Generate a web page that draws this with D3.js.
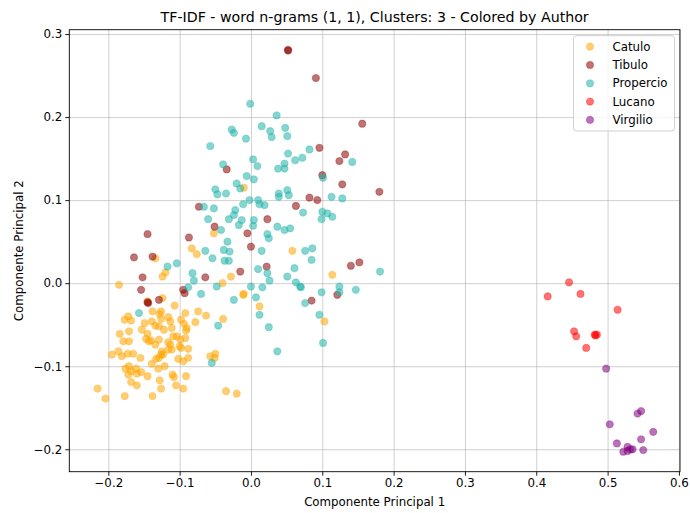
<!DOCTYPE html>
<html>
<head>
<meta charset="utf-8">
<title>TF-IDF scatter</title>
<script src="https://d3js.org/d3.v7.min.js"></script>
<style>
body { margin: 0; background: #fff; }
text { font-family: "DejaVu Sans", sans-serif; }
</style>
</head>
<body>
<svg id="chart" width="690" height="513"></svg>
<script>
// data (PCA components 1 and 2)
const authors = ["Catulo", "Tibulo", "Propercio", "Lucano", "Virgilio"];
const xTicks = [-0.2, -0.1, 0.0, 0.1, 0.2, 0.3, 0.4, 0.5, 0.6];
const yTicks = [-0.2, -0.1, 0.0, 0.1, 0.2, 0.3];

const catulo = [
  [-0.052,0.060],[-0.083,0.042],[-0.076,0.035],[0.058,0.039],[-0.010,0.115],[-0.134,0.030],
  [-0.185,-0.002],[-0.124,0.008],[-0.120,0.013],[-0.124,-0.018],[-0.145,-0.022],[-0.040,0.000],
  [-0.028,0.008],[-0.011,-0.014],[-0.010,-0.013],[0.012,-0.028],[0.114,0.010],[0.103,-0.046],
  [-0.107,-0.027],[-0.172,-0.040],[-0.177,-0.044],[-0.168,-0.045],[-0.138,-0.034],[-0.126,-0.034],
  [-0.128,-0.037],[-0.092,-0.036],[-0.074,-0.034],[-0.063,-0.039],[-0.039,-0.043],[-0.078,-0.047],
  [-0.149,-0.048],[-0.139,-0.046],[-0.126,-0.043],[-0.116,-0.041],[-0.113,-0.046],[-0.098,-0.044],
  [-0.094,-0.049],[-0.153,-0.056],[-0.145,-0.061],[-0.129,-0.052],[-0.122,-0.056],[-0.111,-0.054],
  [-0.109,-0.064],[-0.090,-0.054],[-0.091,-0.057],[-0.171,-0.058],[-0.184,-0.061],[-0.179,-0.070],
  [-0.171,-0.070],[-0.143,-0.070],[-0.140,-0.069],[-0.134,-0.074],[-0.129,-0.068],[-0.116,-0.071],
  [-0.113,-0.074],[-0.104,-0.064],[-0.099,-0.068],[-0.092,-0.066],[-0.100,-0.076],[-0.098,-0.078],
  [-0.195,-0.086],[-0.186,-0.082],[-0.181,-0.088],[-0.173,-0.085],[-0.165,-0.085],[-0.155,-0.090],
  [-0.125,-0.082],[-0.126,-0.086],[-0.129,-0.090],[-0.133,-0.091],[-0.139,-0.097],[-0.111,-0.080],
  [-0.102,-0.091],[-0.095,-0.094],[-0.088,-0.090],[-0.088,-0.079],[-0.121,-0.100],[-0.130,-0.103],
  [-0.171,-0.100],[-0.176,-0.103],[-0.161,-0.103],[-0.168,-0.106],[-0.154,-0.107],[-0.172,-0.110],
  [-0.160,-0.109],[-0.145,-0.112],[-0.110,-0.110],[-0.108,-0.113],[-0.091,-0.112],[-0.168,-0.119],
  [-0.160,-0.123],[-0.128,-0.117],[-0.126,-0.127],[-0.105,-0.123],[-0.095,-0.127],[-0.215,-0.127],
  [-0.204,-0.139],[-0.177,-0.136],[-0.138,-0.136],[-0.057,-0.088],[-0.050,-0.085],[-0.051,-0.090],
  [-0.035,-0.130],[-0.020,-0.133],[-0.147,-0.067],[-0.134,-0.051],[-0.116,-0.080],[-0.123,-0.086]
];

const tibulo = [
  [0.052,0.280],[0.052,0.281],[0.091,0.247],[0.156,0.192],[0.096,0.163],[0.132,0.155],
  [0.124,0.147],[-0.034,0.137],[0.100,0.130],[0.128,0.119],[0.180,0.110],[0.082,0.103],
  [0.093,0.100],[-0.073,0.092],[0.063,0.093],[0.023,0.077],[-0.051,0.068],[-0.005,0.060],
  [-0.087,0.055],[-0.145,0.059],[0.000,0.044],[-0.164,0.031],[-0.138,0.032],[-0.152,0.007],
  [-0.154,-0.008],[-0.145,-0.023],[-0.144,-0.024],[-0.129,-0.020],[-0.095,-0.008],[-0.093,-0.012],
  [-0.064,0.007],[-0.015,0.014],[0.022,0.020],[0.085,-0.021],[0.121,-0.014],[0.140,0.021],
  [0.152,0.025]
];

const propercio = [
  [-0.001,0.216],[0.036,0.202],[0.015,0.189],[0.048,0.187],[-0.027,0.185],[-0.024,0.181],
  [0.027,0.183],[0.029,0.176],[0.051,0.177],[-0.007,0.174],[-0.057,0.165],[0.082,0.161],
  [0.052,0.156],[0.072,0.151],[0.062,0.148],[0.142,0.146],[0.003,0.149],[0.009,0.141],
  [-0.039,0.143],[0.047,0.144],[0.047,0.138],[0.038,0.138],[-0.006,0.129],[0.004,0.125],
  [-0.020,0.120],[-0.015,0.114],[-0.050,0.113],[-0.047,0.107],[-0.035,0.108],[0.051,0.112],
  [0.039,0.108],[0.039,0.104],[0.053,0.106],[0.113,0.104],[0.128,0.102],[-0.002,0.100],
  [0.010,0.100],[0.012,0.095],[0.019,0.094],[-0.011,0.095],[-0.066,0.092],[-0.052,0.090],
  [-0.022,0.088],[-0.024,0.082],[0.073,0.085],[0.100,0.086],[0.107,0.084],[0.114,0.080],
  [0.099,0.077],[-0.060,0.077],[-0.031,0.077],[-0.013,0.076],[0.004,0.076],[-0.017,0.070],
  [0.003,0.069],[0.037,0.068],[0.047,0.064],[0.055,0.066],[-0.042,0.064],[0.023,0.059],
  [0.025,0.054],[-0.033,0.050],[-0.064,0.039],[-0.038,0.040],[-0.030,0.038],[0.015,0.039],
  [0.076,0.039],[0.086,0.042],[0.101,0.127],[-0.117,0.020],[-0.104,0.024],[-0.082,0.012],
  [-0.080,0.003],[-0.088,-0.005],[-0.070,-0.013],[-0.048,-0.004],[-0.054,0.030],[-0.031,0.027],
  [-0.037,0.027],[0.000,-0.004],[0.010,0.017],[0.016,-0.005],[0.023,0.012],[0.026,0.003],
  [0.007,-0.017],[-0.024,-0.020],[0.012,-0.038],[0.025,-0.053],[0.037,-0.082],[0.051,0.008],
  [0.061,0.018],[0.063,0.001],[0.069,-0.004],[0.070,-0.005],[0.085,0.028],[0.076,-0.024],
  [0.099,-0.011],[0.096,-0.038],[0.101,-0.072],[0.124,-0.004],[0.124,-0.011],[0.147,-0.008],
  [0.181,0.014],[-0.157,-0.036],[-0.046,-0.051],[-0.055,-0.096]
];

const lucano = [
  [0.446,0.001],[0.416,-0.016],[0.462,-0.013],[0.514,-0.032],[0.453,-0.058],[0.456,-0.064],
  [0.482,-0.062],[0.485,-0.062],[0.483,-0.063],[0.470,-0.078]
];

const virgilio = [
  [0.498,-0.103],[0.503,-0.170],[0.542,-0.157],[0.547,-0.154],[0.564,-0.179],[0.547,-0.188],
  [0.513,-0.193],[0.528,-0.197],[0.532,-0.200],[0.535,-0.200],[0.522,-0.203],[0.528,-0.202],
  [0.550,-0.201]
];

const series = [catulo, tibulo, propercio, lucano, virgilio];
const colors = ["orange", "darkred", "lightseagreen", "red", "purple"];

const svg = d3.select("#chart");
const W = 690, H = 513;
const margin = {top: 29.7, right: 10, bottom: 41.3, left: 69.3};
const plotW = W - margin.left - margin.right;
const plotH = H - margin.top - margin.bottom;
const FS = 11.8;

const x = d3.scaleLinear().domain([-0.2547, 0.6015]).range([0, plotW]);
const y = d3.scaleLinear().domain([-0.227, 0.3052]).range([plotH, 0]);

const g = svg.append("g").attr("transform", `translate(${margin.left},${margin.top})`);

// grid
g.append("g")
  .attr("transform", `translate(0,${plotH})`)
  .call(d3.axisBottom(x).tickValues(xTicks).tickSize(-plotH).tickFormat(""))
  .call(a => a.select(".domain").remove())
  .selectAll("line").attr("stroke", "#b0b0b0").attr("stroke-opacity", 0.6);
g.append("g")
  .call(d3.axisLeft(y).tickValues(yTicks).tickSize(-plotW).tickFormat(""))
  .call(a => a.select(".domain").remove())
  .selectAll("line").attr("stroke", "#b0b0b0").attr("stroke-opacity", 0.6);

// points
const fmtMinus = d => d3.format(".1f")(d).replace("-", "\u2212");
series.forEach((pts, i) => {
  g.append("g").selectAll("circle")
    .data(pts)
    .enter()
    .append("circle")
    .attr("cx", d => x(d[0]))
    .attr("cy", d => y(d[1]))
    .attr("r", 3.6)
    .attr("fill", colors[i])
    .attr("fill-opacity", 0.55)
    .attr("stroke", colors[i])
    .attr("stroke-opacity", 0.3)
    .attr("stroke-width", 1.1);
});

// axes
const xAxis = g.append("g")
  .attr("transform", `translate(0,${plotH})`)
  .call(d3.axisBottom(x).tickValues(xTicks).tickSize(4).tickPadding(3).tickFormat(fmtMinus));
const yAxis = g.append("g")
  .call(d3.axisLeft(y).tickValues(yTicks).tickSize(4).tickPadding(3).tickFormat(fmtMinus));
[xAxis, yAxis].forEach(a => {
  a.select(".domain").remove();
  a.selectAll("text").attr("font-size", FS).attr("fill", "#000").style("font-family", "DejaVu Sans");
  a.selectAll("line").attr("stroke", "#000").attr("stroke-width", 0.9);
});

// frame
g.append("rect")
  .attr("width", plotW).attr("height", plotH)
  .attr("fill", "none").attr("stroke", "#000").attr("stroke-width", 0.9);

// title and labels
svg.append("text")
  .attr("x", margin.left + plotW / 2).attr("y", 21.5)
  .attr("text-anchor", "middle").attr("font-size", 14.2)
  .text("TF-IDF - word n-grams (1, 1), Clusters: 3 - Colored by Author");
svg.append("text")
  .attr("x", margin.left + plotW / 2).attr("y", 505.5)
  .attr("text-anchor", "middle").attr("font-size", FS)
  .text("Componente Principal 1");
svg.append("text")
  .attr("transform", `translate(23,${margin.top + plotH / 2}) rotate(-90)`)
  .attr("text-anchor", "middle").attr("font-size", FS)
  .text("Componente Principal 2");

// legend
const leg = svg.append("g").attr("transform", "translate(573.5,35.7)");
leg.append("rect")
  .attr("width", 101).attr("height", 95.3).attr("rx", 3)
  .attr("fill", "#fff").attr("fill-opacity", 0.8)
  .attr("stroke", "#cccccc").attr("stroke-width", 0.9);
authors.forEach((name, i) => {
  const row = leg.append("g").attr("transform", `translate(0,${11 + i * 18.3})`);
  row.append("circle")
    .attr("cx", 16.5).attr("cy", 0).attr("r", 3.6)
    .attr("fill", colors[i]).attr("fill-opacity", 0.55)
    .attr("stroke", colors[i]).attr("stroke-opacity", 0.3).attr("stroke-width", 1.1);
  row.append("text")
    .attr("x", 39).attr("y", 0).attr("dy", "0.35em")
    .attr("font-size", FS).attr("fill", "#000")
    .text(name);
});
</script>
</body>
</html>
